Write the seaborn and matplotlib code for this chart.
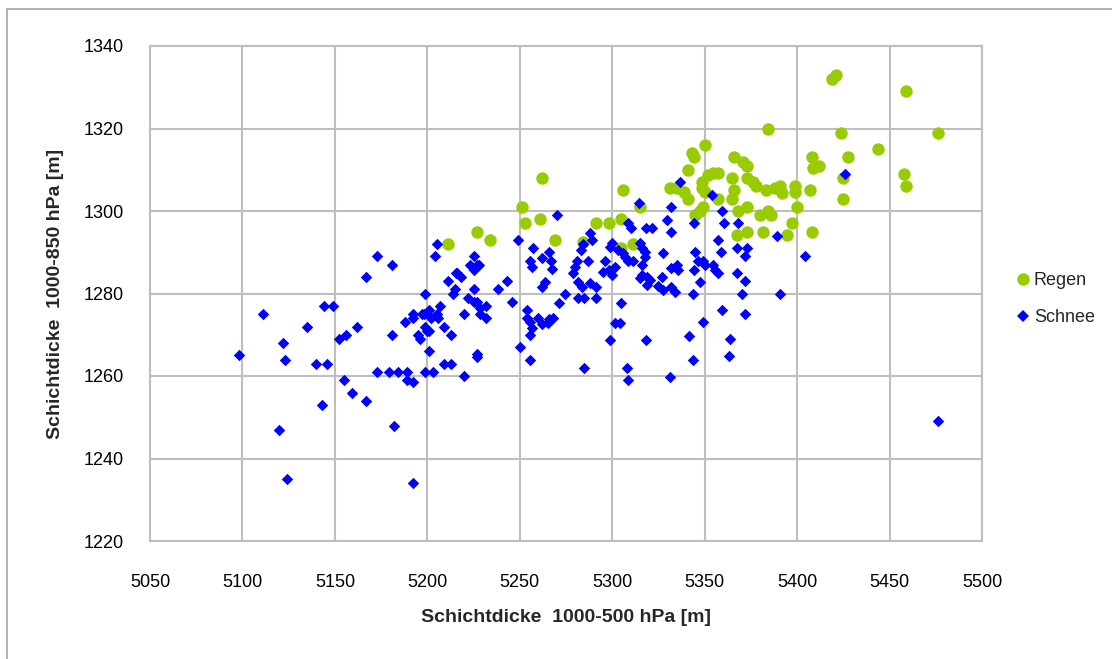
import matplotlib
matplotlib.use("Agg")
import matplotlib.pyplot as plt
import seaborn as sns
import pandas as pd
from matplotlib.patches import Rectangle
from matplotlib.lines import Line2D

# ---- data -----------------------------------------------------------
regen_x = [5211, 5227, 5234, 5251, 5253, 5261, 5262, 5269, 5284, 5291, 5298, 5305, 5305, 5306,
           5311, 5315, 5331, 5335, 5339, 5341, 5341, 5343, 5344, 5345, 5347.5, 5348.5, 5348.5,
           5349, 5350, 5350, 5352, 5354.5, 5357, 5357, 5365, 5365, 5366, 5366, 5367.5, 5368,
           5371, 5373, 5373, 5373, 5373, 5376, 5378, 5380, 5381.5, 5383, 5384, 5384, 5386,
           5388, 5391, 5392, 5394.5, 5397, 5399, 5399, 5400, 5407, 5408, 5408.6, 5408, 5412,
           5419, 5421, 5424, 5425, 5425, 5427.5, 5444, 5458, 5459, 5459, 5476]
regen_y = [1292, 1295, 1293, 1301, 1297, 1298, 1308, 1293, 1292.5, 1297, 1297, 1291, 1298, 1305,
           1292, 1301, 1305.6, 1305.6, 1304.6, 1303, 1310, 1314, 1313, 1299, 1300, 1305.6, 1307,
           1301, 1316, 1304.6, 1308.7, 1309.2, 1309.2, 1303, 1303, 1308, 1313, 1305, 1294.2, 1300,
           1312, 1311, 1301, 1308, 1295, 1307, 1306, 1299, 1295, 1305, 1300, 1320, 1299,
           1305.6, 1306, 1304.4, 1294.2, 1297, 1306, 1304.6, 1301, 1305, 1313, 1310.4, 1295, 1311,
           1332, 1333, 1319, 1308, 1303, 1313, 1315, 1309, 1329, 1306, 1319]

schnee_x = [5098, 5111, 5120, 5122, 5123, 5124, 5135, 5140, 5143, 5144, 5146, 5149, 5152, 5155,
            5156, 5159, 5162, 5167, 5167, 5173, 5173, 5179, 5181, 5181, 5182, 5184, 5188, 5189,
            5189, 5192, 5192, 5192, 5192, 5195, 5196, 5197, 5198, 5199, 5199, 5200, 5199, 5201,
            5201, 5201, 5202, 5203, 5204, 5205, 5205, 5206, 5207, 5209, 5209, 5211, 5213, 5213,
            5214, 5215, 5215.5, 5216, 5218, 5220, 5220, 5222, 5223, 5225, 5225, 5225, 5225, 5227,
            5227, 5227, 5227, 5228, 5228.5, 5228.5, 5232, 5232, 5238, 5243, 5246, 5249, 5250,
            5254, 5254, 5255.5, 5256.6, 5255.5, 5255.5, 5256.6, 5255.5, 5257, 5260, 5262, 5262,
            5262, 5263.6, 5265.3, 5266, 5268, 5266, 5267, 5267.4, 5270, 5271, 5274.5, 5279, 5280,
            5281, 5281.5, 5281.5, 5283.6, 5283, 5284, 5285, 5285, 5287, 5288, 5288, 5289, 5291,
            5291, 5295, 5296, 5298, 5299, 5299, 5300, 5300, 5301.5, 5301.5, 5303, 5304, 5305,
            5306, 5307, 5308, 5308.5, 5308.5, 5308.5, 5310, 5311, 5314.5, 5315, 5316, 5317.7,
            5317.7, 5316, 5316, 5315, 5319, 5319, 5320.4, 5318, 5321.5, 5318, 5324.7, 5327, 5327.4,
            5327.4, 5329.6, 5331, 5332, 5332, 5332, 5332, 5334, 5335, 5335.6, 5336.6, 5341.5,
            5343.7, 5343.7, 5344, 5344.5, 5345, 5346.4, 5347.5, 5349, 5349, 5350, 5354, 5354.5,
            5355.6, 5357, 5357, 5358.8, 5359.4, 5359.4, 5360.7, 5363.7, 5363.1, 5367.5, 5367.5,
            5368, 5370, 5372, 5372, 5373, 5372, 5389, 5391, 5404.5, 5426, 5476]
schnee_y = [1265, 1275, 1247, 1268, 1264, 1235, 1272, 1263, 1253, 1277, 1263, 1277, 1269, 1259,
            1270, 1256, 1272, 1254, 1284, 1289, 1261, 1261, 1287, 1270, 1248, 1261, 1273, 1261,
            1259, 1275, 1274, 1234, 1258.5, 1270, 1269, 1275, 1275, 1272, 1280, 1271, 1261, 1276,
            1266, 1271, 1274, 1261, 1289, 1292, 1275, 1274, 1277, 1272, 1263, 1283, 1270, 1263,
            1280, 1281, 1285, 1285, 1284, 1275, 1260, 1279, 1287, 1289, 1285.7, 1281, 1278, 1287,
            1278, 1265.3, 1264.6, 1287, 1276.5, 1275, 1277, 1274, 1281, 1283, 1278, 1293, 1267,
            1276, 1274, 1273, 1271.6, 1270, 1288, 1286.4, 1264, 1291, 1274, 1272.6, 1288.5,
            1281.6, 1282.8, 1272.8, 1273.8, 1274, 1290, 1288, 1286, 1299, 1277.7, 1280, 1285, 1286.4,
            1288, 1282.8, 1279, 1281.6, 1290.5, 1292, 1279, 1262, 1288, 1282.5, 1294.7, 1293, 1281.6,
            1279, 1285.2, 1288, 1285.7, 1291.3, 1268.7, 1292.2, 1284.5, 1286.4, 1272.8, 1290.5, 1272.8, 1277.7,
            1289.8, 1288.8, 1262, 1259, 1297, 1288, 1296, 1288, 1302, 1292.2, 1291, 1290,
            1288.8, 1287, 1284.5, 1283.8, 1284, 1282, 1283.3, 1296, 1296, 1268.7, 1281.8, 1284, 1289.8,
            1280.8, 1297.8, 1259.8, 1301, 1295, 1286.2, 1281.6, 1280.4, 1287, 1285.7, 1307, 1269.7,
            1280, 1264, 1285.7, 1297, 1290, 1288, 1282.8, 1273, 1288, 1287, 1304, 1287,
            1285.7, 1285, 1293, 1290, 1300, 1276, 1297, 1269, 1264.8, 1291, 1285,
            1297, 1280, 1283, 1275, 1291, 1289, 1294, 1280, 1289, 1309, 1249]

x_ticks = [5050, 5100, 5150, 5200, 5250, 5300, 5350, 5400, 5450, 5500]
y_ticks = [1220, 1240, 1260, 1280, 1300, 1320, 1340]
series_names = ["Regen", "Schnee"]
x_label = "Schichtdicke  1000-500 hPa [m]"
y_label = "Schichtdicke  1000-850 hPa [m]"

df_r = pd.DataFrame({"x": regen_x, "y": regen_y, "Typ": series_names[0]})
df_s = pd.DataFrame({"x": schnee_x, "y": schnee_y, "Typ": series_names[1]})

# ---- style ----------------------------------------------------------
sns.set_style("white")
plt.rcParams["font.family"] = ["Liberation Sans", "DejaVu Sans"]

GREEN = "#99CC00"
BLUE = "#0000FF"
GRID = "#BEBEBE"

fig = plt.figure(figsize=(11.12, 6.59), dpi=100)
ax = fig.add_axes([150 / 1112, 1 - 541 / 659, (982 - 150) / 1112, (541 - 46) / 659])

sns.scatterplot(data=df_r, x="x", y="y", ax=ax, color=GREEN, marker="o", s=80,
                linewidth=0, legend=False, zorder=3)
sns.scatterplot(data=df_s, x="x", y="y", ax=ax, color=BLUE, marker="D", s=34,
                linewidth=0, legend=False, zorder=4)

ax.set_xlim(x_ticks[0], x_ticks[-1])
ax.set_ylim(y_ticks[0], y_ticks[-1])
ax.set_xticks(x_ticks)
ax.set_yticks(y_ticks)
ax.grid(True, color=GRID, linewidth=1.5)
ax.set_axisbelow(True)
for sp in ax.spines.values():
    sp.set_color(GRID)
    sp.set_linewidth(1.5)
ax.tick_params(axis="x", length=0, pad=24, labelsize=13, colors="#000000")
ax.tick_params(axis="y", length=0, pad=19, labelsize=13, colors="#000000")

ax.set_xlabel(x_label, fontsize=14, fontweight="bold", labelpad=13)
ax.set_ylabel(y_label, fontsize=14, fontweight="bold", labelpad=14)

handles = [Line2D([], [], linestyle="none", marker="o", markersize=9, color=GREEN,
                  markeredgewidth=0),
           Line2D([], [], linestyle="none", marker="D", markersize=6, color=BLUE,
                  markeredgewidth=0)]
fig.legend(handles, series_names, loc="center left", bbox_to_anchor=(1005 / 1112, 1 - 299 / 659),
           frameon=False, fontsize=13, handletextpad=0.1, labelspacing=1.1,
           handlelength=1.0, borderpad=0)

# outer chart border
fig.patches.append(Rectangle((7 / 1112, -0.01), 1.2, 1 - 9 / 659 + 0.01, transform=fig.transFigure,
                             fill=False, edgecolor="#A6A6A6", linewidth=1.2))

fig.savefig("out.png", dpi=100)
